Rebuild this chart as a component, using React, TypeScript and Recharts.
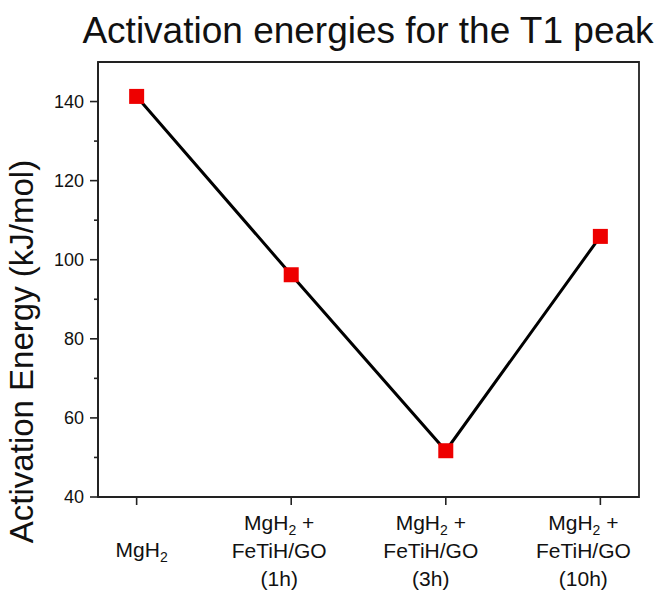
import React from "react";
import {
  LineChart,
  Line,
  XAxis,
  YAxis,
  ReferenceArea,
} from "recharts";

const samples = ["MgH2", "MgH2 + FeTiH/GO (1h)", "MgH2 + FeTiH/GO (3h)", "MgH2 + FeTiH/GO (10h)"];
const positions = [0, 1, 2, 3];
const energies = [141.3, 96.2, 51.7, 105.9];
const yTicks = [40, 50, 60, 70, 80, 90, 100, 110, 120, 130, 140];
const millingTimes = ["", "(1h)", "(3h)", "(10h)"];

const data = samples.map((s, i) => ({ name: s, pos: positions[i], ea: energies[i] }));

const FONT = "'Liberation Sans', Arial, sans-serif";
// labels in the source figure sit slightly left of their ticks
const labelShift = [5, -12, -15, -17];

const SquareDot = (props: any) => {
  const { cx, cy } = props;
  if (cx == null || cy == null) return null;
  return <rect x={cx - 7.5} y={cy - 7.5} width={15} height={15} fill="#ee0000" />;
};

const YTick = (props: any) => {
  const { x, y, payload } = props;
  const v = payload.value;
  const major = v % 20 === 0;
  const axisX = x + 10;
  return (
    <g>
      <line x1={axisX - (major ? 8 : 4)} x2={axisX} y1={y} y2={y} stroke="#222" strokeWidth={1.6} />
      {major && (
        <text x={axisX - 14} y={y} textAnchor="end" dominantBaseline="central" fontSize={18} fontFamily={FONT} fill="#111">
          {v}
        </text>
      )}
    </g>
  );
};

const MgH2 = ({ plus }: { plus?: boolean }) => (
  <>
    MgH
    <tspan dy={5} fontSize={14}>2</tspan>
    <tspan dy={-5}>{plus ? " +" : ""}</tspan>
  </>
);

const XTick = (props: any) => {
  const { x, payload } = props;
  const i = positions.indexOf(payload.value);
  if (i < 0) return null;
  const common = { x: x + labelShift[i], textAnchor: "middle" as const, fontSize: 21, fontFamily: FONT, fill: "#111" };
  const top = 497;
  return (
    <g>
      <line x1={x} x2={x} y1={top} y2={top + 8} stroke="#222" strokeWidth={1.6} />
      {i === 0 ? (
        <text {...common} y={557}>
          <MgH2 />
        </text>
      ) : (
        <>
          <text {...common} y={530}>
            <MgH2 plus />
          </text>
          <text {...common} y={558}>FeTiH/GO</text>
          <text {...common} y={586}>{millingTimes[i]}</text>
        </>
      )}
    </g>
  );
};

export default function App() {
  return (
    <div style={{ position: "absolute", left: 0, top: 0, width: 657, height: 596, background: "#fff" }}>
      <div
        style={{
          position: "absolute",
          left: 0,
          width: 736,
          top: 10,
          textAlign: "center",
          fontFamily: FONT,
          fontSize: 37,
          color: "#111",
          whiteSpace: "nowrap",
        }}
      >
        Activation energies for the T1 peak
      </div>
      <LineChart
        width={657}
        height={596}
        data={data}
        margin={{ top: 62, right: 18, left: 0, bottom: 0 }}
      >
        <XAxis
          dataKey="pos"
          type="number"
          domain={[-0.25, 3.25]}
          ticks={positions}
          height={99}
          axisLine={{ stroke: "#222", strokeWidth: 1.8 }}
          tickLine={false}
          tick={<XTick />}
          interval={0}
        />
        <YAxis
          type="number"
          domain={[40, 150]}
          ticks={yTicks}
          width={98}
          tickSize={8}
          tickMargin={2}
          tickLine={false}
          axisLine={{ stroke: "#222", strokeWidth: 1.8 }}
          tick={<YTick />}
          interval={0}
          label={{
            value: "Activation Energy (kJ/mol)",
            angle: -90,
            position: "insideLeft",
            dx: 16,
            dy: 72,
            style: { fontSize: 33, fontFamily: FONT, fill: "#111", textAnchor: "middle" },
          }}
        />
        <ReferenceArea x1={-0.25} x2={3.25} y1={40} y2={150} fill="none" stroke="#222" strokeWidth={1.8} />
        <Line
          dataKey="ea"
          stroke="#000"
          strokeWidth={3}
          dot={<SquareDot />}
          activeDot={false}
          isAnimationActive={false}
        />
      </LineChart>
    </div>
  );
}
